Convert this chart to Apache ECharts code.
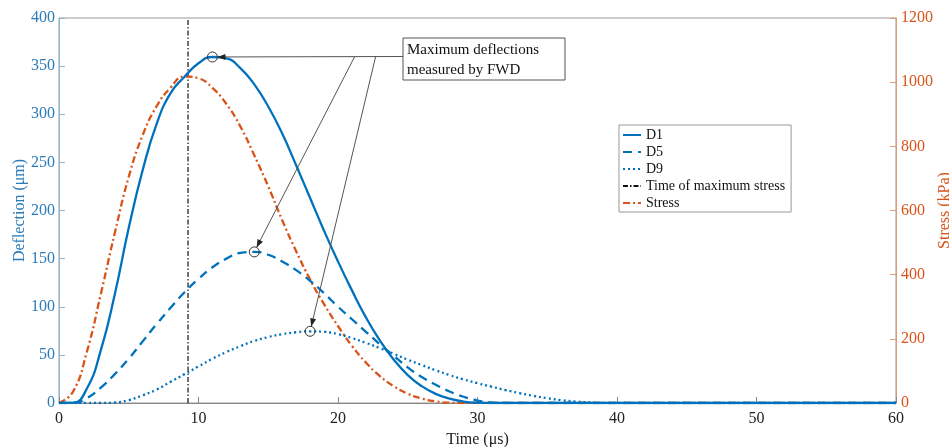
<!DOCTYPE html>
<html>
<head>
<meta charset="utf-8">
<script src="https://cdn.jsdelivr.net/npm/echarts@6/dist/echarts.min.js"></script>
<style>
html,body{margin:0;padding:0;background:#fff;}
#chart{width:949px;height:447px;}
</style>
</head>
<body>
<div id="chart"></div>
<script>
// ---- data ----
const timeUs = [0,1,2,3,4,5,6,7,8,9,10,11,12,13,14,15,16,17,18,19,20,21,22,23,24,25,26,27,28,29,30,31,32,33,34,35,36,37,38,39,40,45,50,55,60];
const d1 = [0,0.3,15,55,113,182,242,290,322,339,353,359.5,358,348,331,308,280,247,213,179,147,117,89,65,45,29,17.5,9.5,4.5,1.5,0.3,0,0,0,0,0,0,0,0,0,0,0,0,0,0];
const d5 = [0,0,5,16,30,46,64,82,99,115,129,141,150,156,157,154,147,138,127,114,100,87,74,61,49,37,27,19,12,6.5,2.5,0.5,0,0,0,0,0,0,0,0,0,0,0,0,0];
const d9 = [0,0,0,0,0.5,3,8,14,22,30,38,46,53,59,64.5,68.5,71.5,73.5,74.5,74,71.5,67.5,62.5,57,51,45,39.5,34,29,24.5,20.5,17,13.5,10.3,7.5,5,3,1.5,0.6,0.1,0,0,0,0,0];
const stressKPa = [0,35,160,340,530,705,835,925,983,1018,1012,982,932,862,772,675,570,473,385,308,240,178,126,84,52,29,14,5,1,0,0,0,0,0,0,0,0,0,0,0,0,0,0,0,0];
const timeOfMaxStress = 9.25;
const xTicks = {min:0, max:60, interval:10};
const leftTicks = {min:0, max:400, interval:50};
const rightTicks = {min:0, max:1200, interval:200};
const annotationText = 'Maximum deflections\nmeasured by FWD';
// annotation leader geometry in data units (time, deflection)
const annoLineY = 360, annoBoxT = 24.66, branchD5T = 21.2, branchD9T = 22.7;

const BLUE = '#0072BD', ORANGE = '#D95319';
const FONT = '"Liberation Serif", "Times New Roman", serif';

const pairs = (ys) => timeUs.map((t, i) => [t, ys[i]]);
function peakOf(ys){ let k = 0; ys.forEach((v,i)=>{ if (v > ys[k]) k = i; }); return [timeUs[k], ys[k]]; }
const plain = (v) => String(v);

const chart = echarts.init(document.getElementById('chart'));
const option = {
  backgroundColor: '#fff',
  animation: false,
  textStyle: {fontFamily: FONT},
  grid: {left: 59, right: 53, top: 18, bottom: 44, containLabel: false, outerBoundsMode: 'none',
         show: true, borderColor: '#999', borderWidth: 1},
  legend: {
    orient: 'vertical', left: 619, top: 125,
    data: ['D1','D5','D9','Time of maximum stress','Stress'],
    backgroundColor: '#fff', borderColor: '#999', borderWidth: 1,
    padding: [3, 6, 2, 3], itemWidth: 18, itemHeight: 14, itemGap: 3,
    itemStyle: {opacity: 0},
    textStyle: {fontFamily: FONT, fontSize: 14, color: '#111'}
  },
  xAxis: {
    type: 'value', min: xTicks.min, max: xTicks.max, interval: xTicks.interval,
    name: 'Time (μs)', nameLocation: 'middle', nameGap: 29, nameMoveOverlap: false,
    nameTextStyle: {fontFamily: FONT, fontSize: 16, color: '#222'},
    axisLine: {lineStyle: {color: '#888', width: 1}},
    axisTick: {inside: true, length: 6, lineStyle: {color: '#888'}},
    axisLabel: {fontFamily: FONT, fontSize: 16, color: '#222', margin: 8, formatter: plain},
    splitLine: {show: false}
  },
  yAxis: [{
    type: 'value', min: leftTicks.min, max: leftTicks.max, interval: leftTicks.interval,
    name: 'Deflection (μm)', nameLocation: 'middle', nameGap: 31, nameMoveOverlap: false,
    nameTextStyle: {fontFamily: FONT, fontSize: 16, color: '#2a7bb8'},
    axisLine: {show: true, lineStyle: {color: '#8db8d8', width: 1}},
    axisTick: {show: true, inside: true, length: 6, lineStyle: {color: '#8db8d8'}},
    axisLabel: {fontFamily: FONT, fontSize: 16, color: '#2a7bb8', margin: 4, formatter: plain},
    splitLine: {show: false}
  }, {
    type: 'value', position: 'right', min: rightTicks.min, max: rightTicks.max, interval: rightTicks.interval,
    name: 'Stress (kPa)', nameLocation: 'middle', nameGap: 41, nameMoveOverlap: false,
    nameTextStyle: {fontFamily: FONT, fontSize: 16, color: ORANGE},
    axisLine: {show: true, lineStyle: {color: '#e39a76', width: 1}},
    axisTick: {show: true, inside: true, length: 6, lineStyle: {color: '#e39a76'}},
    axisLabel: {fontFamily: FONT, fontSize: 16, color: ORANGE, margin: 5, formatter: plain},
    splitLine: {show: false}
  }],
  series: [
    {name: 'D1', type: 'line', data: pairs(d1), smooth: 0.5, symbol: 'none',
     lineStyle: {color: BLUE, width: 2.3, type: 'solid'}, itemStyle: {color: BLUE}, z: 4},
    {name: 'D5', type: 'line', data: pairs(d5), smooth: 0.5, symbol: 'none',
     lineStyle: {color: BLUE, width: 2.3, type: [9, 6]}, itemStyle: {color: BLUE}, z: 4},
    {name: 'D9', type: 'line', data: pairs(d9), smooth: 0.5, symbol: 'none',
     lineStyle: {color: BLUE, width: 2.3, type: [2, 3]}, itemStyle: {color: BLUE}, z: 4},
    {name: 'Time of maximum stress', type: 'line',
     data: [[timeOfMaxStress, leftTicks.min], [timeOfMaxStress, leftTicks.max]], symbol: 'none',
     lineStyle: {color: '#111', width: 1.2, type: [5, 2, 1.5, 2]}, itemStyle: {color: '#111'}, z: 3},
    {name: 'Stress', type: 'line', yAxisIndex: 1, data: pairs(stressKPa), smooth: 0.5, symbol: 'none',
     lineStyle: {color: ORANGE, width: 2.3, type: [7, 3, 2, 3]}, itemStyle: {color: ORANGE}, z: 3}
  ]
};
chart.setOption(option);

// ---- annotations (circles at peaks, leader arrows, text box) ----
const px = (p) => chart.convertToPixel({gridIndex: 0}, p);
const R = 5;
const peaks = [peakOf(d1), peakOf(d5), peakOf(d9)].map(px);
const starts = [px([annoBoxT, annoLineY]), px([branchD5T, annoLineY]), px([branchD9T, annoLineY])];
const g = [];
peaks.forEach((c, i) => {
  g.push({type: 'circle', shape: {cx: c[0], cy: c[1], r: R}, style: {fill: 'none', stroke: '#333', lineWidth: 1}, z: 20});
  const s = starts[i];
  const dx = s[0] - c[0], dy = s[1] - c[1], L = Math.hypot(dx, dy);
  const ux = dx / L, uy = dy / L;
  const e = [c[0] + ux * R, c[1] + uy * R];
  g.push({type: 'line', shape: {x1: s[0], y1: s[1], x2: e[0], y2: e[1]}, style: {stroke: '#555', lineWidth: 1}, z: 20});
  const hl = 8, hw = 3;
  const b = [e[0] + ux * hl, e[1] + uy * hl];
  g.push({type: 'polygon', shape: {points: [e, [b[0] - uy * hw, b[1] + ux * hw], [b[0] + uy * hw, b[1] - ux * hw]]},
          style: {fill: '#222'}, z: 21});
});
const boxLeft = starts[0][0];
g.push({type: 'rect', shape: {x: boxLeft, y: 38, width: 162, height: 42},
        style: {fill: '#fff', stroke: '#555', lineWidth: 1}, z: 22});
g.push({type: 'text', x: boxLeft + 4, y: 40,
        style: {text: annotationText, font: '15px ' + FONT, fill: '#111', lineHeight: 20}, z: 23});
chart.setOption({graphic: g});
</script>
</body>
</html>
